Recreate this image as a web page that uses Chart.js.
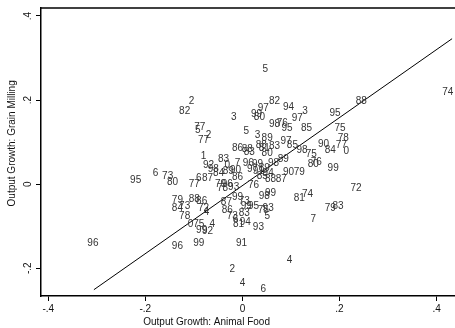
<!DOCTYPE html>
<html>
<head>
<meta charset="utf-8">
<script src="https://cdn.jsdelivr.net/npm/chart.js@4"></script>
<style>
	html, body { margin: 0; padding: 0; background: #fff; }
	#wrap { width: 455px; height: 328px; position: relative; }
</style>
</head>
<body>
<div id="wrap"><canvas id="growthChart"></canvas></div>
<script>
// 연도 라벨 (점 대신 표시)
const yearLabels = [
	'5', '74', '2', '82', '82', '88', '97', '94', '3', '95',
	'3', '99', '80', '97', '98', '76', '95', '85', '75', '77',
	'5', '5', '2', '77', '3', '89', '78', '97', '85', '90',
	'77', '88', '81', '83', '86', '88', '83', '84', '0', '98',
	'75', '80', '1', '83', '89', '76', '80', '92', '0', '7',
	'96', '99', '98', '98', '84', '89', '90', '86', '99', '6',
	'73', '80', '95', '6', '87', '77', '79', '96', '78', '93',
	'76', '90', '79', '88', '87', '97', '91', '89', '85', '94',
	'72', '81', '74', '79', '83', '7', '79', '88', '86', '84',
	'73', '72', '4', '78', '87', '99', '73', '86', '83', '73',
	'6', '81', '94', '95', '99', '98', '99', '75', '93', '5',
	'93', '0', '75', '4', '99', '92', '96', '96', '99', '91',
	'4', '2', '4', '6'
];

// x: Animal Food 성장률
const animalGrowth = [
	0.047, 0.423, -0.105, -0.119, 0.066, 0.245, 0.043, 0.095, 0.129, 0.191,
	-0.018, 0.029, 0.035, 0.113, 0.066, 0.082, 0.092, 0.132, 0.201, -0.088,
	-0.092, 0.008, -0.070, -0.080, 0.031, 0.051, 0.208, 0.090, 0.103, 0.167,
	0.204, 0.039, 0.045, 0.066, -0.010, 0.010, 0.014, 0.181, 0.214, 0.123,
	0.142, 0.051, -0.080, -0.039, 0.084, 0.152, 0.146, -0.070, -0.031, -0.010,
	0.012, 0.031, 0.064, -0.060, -0.049, -0.029, -0.014, -0.010, 0.187, -0.179,
	-0.154, -0.144, -0.220, -0.090, -0.072, -0.099, -0.045, -0.031, -0.041, -0.018,
	0.023, 0.095, 0.117, 0.058, 0.080, 0.021, 0.033, 0.045, 0.041, 0.053,
	0.234, 0.117, 0.134, 0.181, 0.197, 0.146, -0.134, -0.099, -0.084, -0.134,
	-0.119, -0.080, -0.074, -0.119, -0.033, -0.010, 0.004, -0.031, 0.004, -0.021,
	-0.014, -0.008, 0.006, 0.023, 0.008, 0.045, 0.058, 0.043, 0.053, 0.051,
	0.033, -0.107, -0.090, -0.062, -0.084, -0.072, -0.308, -0.134, -0.090, -0.002,
	0.097, -0.021, 0, 0.043
];

// y: Grain Milling 성장률
const grainGrowth = [
	0.273, 0.218, 0.197, 0.173, 0.197, 0.197, 0.180, 0.183, 0.173, 0.168,
	0.159, 0.166, 0.159, 0.157, 0.142, 0.145, 0.133, 0.133, 0.133, 0.135,
	0.128, 0.126, 0.116, 0.104, 0.116, 0.109, 0.109, 0.102, 0.093, 0.095,
	0.093, 0.093, 0.085, 0.090, 0.085, 0.083, 0.076, 0.081, 0.078, 0.081,
	0.071, 0.074, 0.066, 0.059, 0.059, 0.052, 0.047, 0.045, 0.045, 0.050,
	0.050, 0.047, 0.050, 0.036, 0.026, 0.031, 0.033, 0.017, 0.038, 0.026,
	0.019, 0.005, 0.009, 0.014, 0.014, 0, 0, 0, -0.009, -0.007,
	-0.002, 0.028, 0.028, 0.012, 0.012, 0.036, 0.031, 0.038, 0.019, 0.026,
	-0.009, -0.033, -0.024, -0.057, -0.052, -0.083, -0.038, -0.036, -0.040, -0.057,
	-0.052, -0.057, -0.066, -0.076, -0.043, -0.031, -0.040, -0.062, -0.069, -0.076,
	-0.083, -0.095, -0.090, -0.052, -0.052, -0.028, -0.021, -0.062, -0.057, -0.076,
	-0.102, -0.095, -0.095, -0.095, -0.109, -0.112, -0.140, -0.147, -0.140, -0.140,
	-0.180, -0.202, -0.235, -0.249
];

// 회귀선 양 끝점
const fitX = [-0.306, 0.432];
const fitY = [-0.251, 0.346];

// 눈금
const xTicks = [-0.4, -0.2, 0, 0.2, 0.4];
const yTicks = [-0.2, 0, 0.2, 0.4];

const xTitle = 'Output Growth: Animal Food';
const yTitle = 'Output Growth: Grain Milling';

const FONT = '"Liberation Sans", Arial, sans-serif';

// Stata 스타일 눈금 라벨 (.2, -.4)
function stataLabel(v) {
	if (Math.abs(v) < 1e-9) return '0';
	return v.toFixed(1).replace('0.', '.');
}

// 점 위치에 연도 텍스트 그리기
const yearLabelPlugin = {
	id: 'yearLabels',
	afterDatasetsDraw(chart) {
		const meta = chart.getDatasetMeta(0);
		const ctx = chart.ctx;
		ctx.save();
		ctx.font = '10px ' + FONT;
		ctx.fillStyle = '#333';
		ctx.textAlign = 'center';
		ctx.textBaseline = 'middle';
		meta.data.forEach((pt, i) => ctx.fillText(yearLabels[i], pt.x, pt.y));
		ctx.restore();
	}
};

// 위쪽 테두리 + 축 제목
const framePlugin = {
	id: 'frame',
	afterDraw(chart) {
		const { ctx, chartArea } = chart;
		ctx.save();
		ctx.strokeStyle = '#000';
		ctx.lineWidth = 1.5;
		ctx.beginPath();
		ctx.moveTo(chartArea.left, chartArea.top);
		ctx.lineTo(chartArea.right, chartArea.top);
		ctx.stroke();

		ctx.fillStyle = '#111';
		ctx.font = '10px ' + FONT;
		ctx.textAlign = 'center';
		ctx.textBaseline = 'middle';
		ctx.fillText(xTitle, chartArea.left + (chartArea.right - chartArea.left) * 0.4, chart.height - 6);

		ctx.translate(12, chartArea.top + (chartArea.bottom - chartArea.top) * 0.47);
		ctx.rotate(-Math.PI / 2);
		ctx.fillText(yTitle, 0, 0);
		ctx.restore();
	}
};

const points = animalGrowth.map((x, i) => ({ x: x, y: grainGrowth[i] }));
const fitLine = fitX.map((x, i) => ({ x: x, y: fitY[i] }));

const ctx = document.getElementById('growthChart').getContext('2d');
window.growthChartInstance = new Chart(ctx, {
	type: 'scatter',
	data: {
		datasets: [
			{
				label: 'years',
				data: points,
				pointRadius: 0,
				pointHoverRadius: 0
			},
			{
				type: 'line',
				label: 'fit',
				data: fitLine,
				borderColor: '#000',
				borderWidth: 1,
				pointRadius: 0,
				fill: false
			}
		]
	},
	options: {
		responsive: true,
		maintainAspectRatio: false,
		animation: false,
		layout: { padding: { top: 7, left: 0, right: 0, bottom: 0 } },
		plugins: {
			legend: { display: false },
			tooltip: { enabled: false }
		},
		scales: {
			x: {
				type: 'linear',
				min: -0.415,
				max: 0.438,
				afterBuildTicks: axis => { axis.ticks = xTicks.map(v => ({ value: v })); },
				afterFit: axis => { axis.height = 32; },
				border: { display: true, color: '#000', width: 1.5 },
				grid: { drawOnChartArea: false, drawTicks: true, tickLength: 5, color: '#000' },
				ticks: {
					callback: v => stataLabel(v),
					maxRotation: 0,
					padding: 2,
					color: '#111',
					font: { family: FONT, size: 10 }
				}
			},
			y: {
				type: 'linear',
				min: -0.266,
				max: 0.419,
				afterBuildTicks: axis => { axis.ticks = yTicks.map(v => ({ value: v })); },
				afterFit: axis => { axis.width = 41; },
				border: { display: true, color: '#000', width: 1.5 },
				grid: { drawOnChartArea: false, drawTicks: true, tickLength: 5, color: '#000' },
				ticks: {
					callback: v => stataLabel(v),
					minRotation: 90,
					maxRotation: 90,
					crossAlign: 'center',
					padding: 2,
					color: '#111',
					font: { family: FONT, size: 10 }
				}
			}
		}
	},
	plugins: [yearLabelPlugin, framePlugin]
});
</script>
</body>
</html>
